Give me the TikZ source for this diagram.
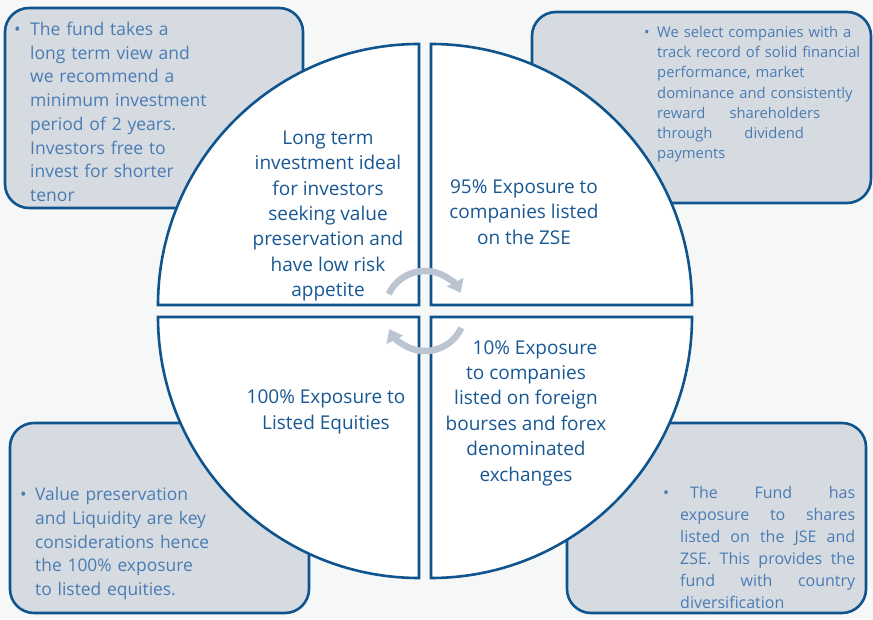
\documentclass[tikz,border=0pt]{standalone}
\usepackage{fontspec}
\setmainfont{Open Sans}
\usetikzlibrary{calc,arrows.meta}
\definecolor{frameblue}{RGB}{16,84,142}
\definecolor{quarterblue}{RGB}{24,88,148}
\definecolor{noteblue}{RGB}{74,124,178}
\definecolor{notegray}{RGB}{214,219,226}
\definecolor{turngray}{RGB}{187,197,210}
\definecolor{paper}{RGB}{246,247,247}
\tikzset{
  notebox/.style = {draw=frameblue, line width=2.6pt, fill=notegray, rounded corners=24pt, inner sep=0pt},
  notetext/.style = {text=noteblue, anchor=north west, inner sep=0pt},
  quarter/.style = {draw=frameblue, line width=2.6pt, fill=white},
  quartertext/.style = {text=quarterblue, align=center, inner sep=0pt, font=\fontsize{19}{25.4}\selectfont},
  turnarrow/.style = {draw=turngray, line width=6.5pt, -{Triangle[width=18pt,length=12pt]}}
}
\newcommand{\notebullet}[1]{\hangindent=#1\hangafter=1\noindent\makebox[#1][l]{\textbullet}}

\begin{document}
\begin{tikzpicture}[x=1pt,y=1pt]
  \fill[paper] (0,0) rectangle (873,619);
  \useasboundingbox (0,0) rectangle (873,619);
  % notes behind the circle
  \node[notebox, minimum width=298pt, minimum height=200pt] (tlbox) at (154,511) {};
  \node[notebox, minimum width=339pt, minimum height=191pt] (trbox) at (701.5,511.5) {};
  \node[notebox, minimum width=299pt, minimum height=190pt] (blbox) at (159.5,101) {};
  \node[notebox, minimum width=299pt, minimum height=190pt] (brbox) at (716.5,101) {};
  \node[notetext, text width=285pt, align=left, font=\fontsize{17.5}{23.7}\selectfont] (tlnote) at (14,597)
    {\notebullet{16pt}The fund takes a\newline long term view and\newline we recommend a\newline minimum investment\newline period of 2 years.\newline Investors free to\newline invest for shorter\newline tenor\par};
  \node[notetext, text width=220pt, align=left, font=\fontsize{14.8}{20.2}\selectfont] (trnote) at (644,593)
    {\notebullet{13pt}We select companies with a\newline track record of solid financial\newline performance, market\newline dominance and consistently\newline reward\hspace{24pt}shareholders\newline through\hspace{32pt}dividend\newline payments\par};
  \node[notetext, text width=280pt, align=left, font=\fontsize{17.4}{23.8}\selectfont] (blnote) at (20,132)
    {\notebullet{15pt}Value preservation\newline and Liquidity are key\newline considerations hence\newline the 100\% exposure\newline to listed equities.\par};
  \node[notetext, text width=192pt, align=justify, font=\fontsize{16}{22}\selectfont] (brnote) at (663,133)
    {\notebullet{17pt}\hspace{10pt}The Fund has\linebreak exposure to shares\linebreak listed on the JSE and\linebreak ZSE. This provides the\linebreak fund with country\linebreak diversification\par};
  % the four quarters
  \coordinate (O) at (425,308);
  \foreach \a/\dx/\dy in {90/-6/6, 0/6/6, 180/-6/-6, 270/6/-6}
    \draw[quarter] ($(O)+(\dx,\dy)$) -- ++(\a:261) arc[start angle=\a, delta angle=90, radius=261] -- cycle;
  \node[quartertext] (tlq) at (328,403) {Long term\\ investment ideal\\ for investors\\ seeking value\\ preservation and\\ have low risk\\ appetite};
  \node[quartertext] (trq) at (524,407) {95\% Exposure to\\ companies listed\\ on the ZSE};
  \node[quartertext] (blq) at (326,207) {100\% Exposure to\\ Listed Equities};
  \node[quartertext] (brq) at (526,206) {\hspace*{18pt}10\% Exposure\\ to companies\\ listed on foreign\\ bourses and forex\\ denominated\\ exchanges};
  % turning arrows
  \draw[turnarrow] ($(O)+(155:40)$) arc[start angle=155, end angle=27, radius=40];
  \draw[turnarrow] ($(O)+(-25:40)$) arc[start angle=-25, end angle=-153, radius=40];
\end{tikzpicture}
\end{document}
